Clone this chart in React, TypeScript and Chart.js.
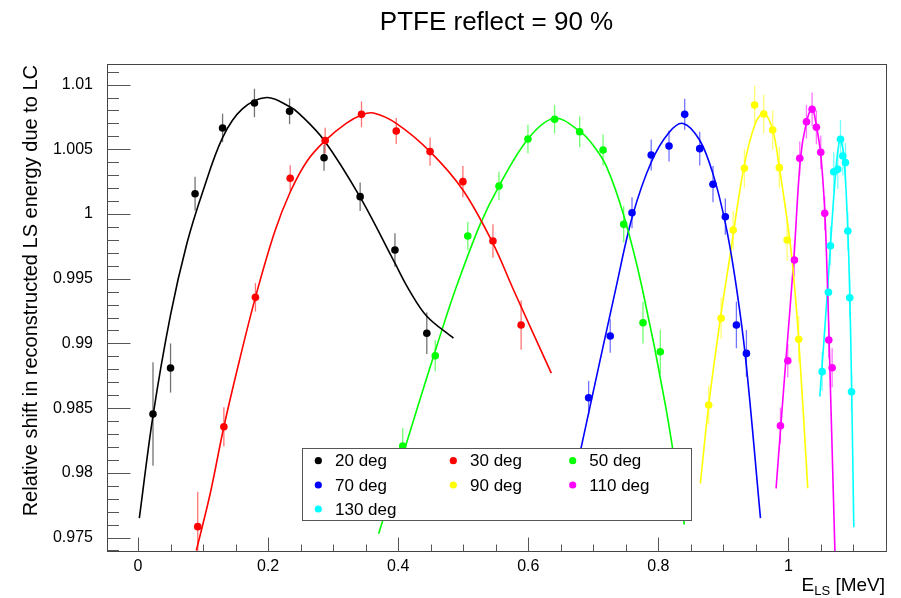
import React, { useEffect, useRef } from "react";
import { Chart, registerables } from "chart.js";

Chart.register(...registerables);

// ---------- data ----------
const seriesLabels = ["20 deg", "30 deg", "50 deg", "70 deg", "90 deg", "110 deg", "130 deg"];
const seriesColors = ["#000000", "#ff0000", "#00ff00", "#0000ff", "#ffff00", "#ff00ff", "#00ffff"];

// measured points (x = E_LS [MeV], y = relative shift, e = error)
const x20 = [0.023, 0.05, 0.0877, 0.13, 0.179, 0.233, 0.286, 0.3415, 0.395, 0.444];
const y20 = [0.98454, 0.9881, 1.00157, 1.00665, 1.00858, 1.00794, 1.00435, 1.00134, 0.99722, 0.99078];
const e20 = [0.004, 0.0019, 0.0013, 0.0011, 0.0011, 0.001, 0.001, 0.0011, 0.0013, 0.0016];

const x30 = [0.0918, 0.132, 0.1805, 0.234, 0.2877, 0.3436, 0.397, 0.449, 0.4995, 0.5457, 0.589];
const y30 = [0.97584, 0.98356, 0.99356, 1.00276, 1.00567, 1.0077, 1.00641, 1.00482, 1.0025, 0.99791, 0.99142];
const e30 = [0.0027, 0.0015, 0.0011, 0.001, 0.001, 0.001, 0.001, 0.0011, 0.0012, 0.0013, 0.0019];

const x50 = [0.407, 0.457, 0.507, 0.555, 0.5995, 0.6405, 0.679, 0.715, 0.7467, 0.7764, 0.803];
const y50 = [0.98207, 0.98905, 0.9983, 1.00216, 1.0058, 1.00732, 1.00636, 1.00495, 0.9992, 0.9916, 0.98936];
const e50 = [0.0014, 0.0012, 0.0011, 0.0011, 0.0011, 0.0011, 0.0012, 0.0012, 0.0014, 0.0016, 0.0017];

const x70 = [0.6928, 0.726, 0.7595, 0.789, 0.8164, 0.8405, 0.8636, 0.884, 0.903, 0.92, 0.9354];
const y70 = [0.9858, 0.99057, 1.0001, 1.00456, 1.00525, 1.0077, 1.00505, 1.0023, 0.99979, 0.99142, 0.98923];
const e70 = [0.0013, 0.0013, 0.0012, 0.0012, 0.0012, 0.0012, 0.0013, 0.0014, 0.0014, 0.0018, 0.0018];

const x90 = [0.8774, 0.8965, 0.915, 0.9323, 0.948, 0.962, 0.9758, 0.986, 0.998, 1.0158];
const y90 = [0.98524, 0.99194, 0.99876, 1.00353, 1.00842, 1.00773, 1.00649, 1.00358, 0.99799, 0.99032];
const e90 = [0.0015, 0.0016, 0.0015, 0.0015, 0.0015, 0.0015, 0.0015, 0.0016, 0.0016, 0.0018];

const x110 = [0.9877, 0.999, 1.0092, 1.0174, 1.0277, 1.0364, 1.043, 1.0497, 1.0558, 1.062, 1.0672];
const y110 = [0.98364, 0.98866, 0.99645, 1.0043, 1.00713, 1.00809, 1.0067, 1.00477, 1.00005, 0.99026, 0.98812];
const e110 = [0.0014, 0.0013, 0.0013, 0.0013, 0.0013, 0.0013, 0.0013, 0.0013, 0.0013, 0.0014, 0.0015];

const x130 = [1.0518, 1.0615, 1.0646, 1.0697, 1.0759, 1.08, 1.0836, 1.0877, 1.0913, 1.0943, 1.097];
const y130 = [0.98782, 0.99395, 0.99755, 1.00327, 1.00345, 1.00577, 1.00448, 1.00397, 0.99869, 0.99353, 0.98627];
const e130 = [0.0015, 0.0015, 0.0015, 0.0015, 0.0015, 0.0015, 0.0015, 0.0015, 0.0015, 0.0015, 0.0015];

// fit curves
const fitX20 = [0.002, 0.023, 0.05, 0.075, 0.1, 0.13, 0.16, 0.198, 0.233, 0.249, 0.286, 0.3415, 0.395, 0.416, 0.444, 0.485];
const fitY20 = [0.9765, 0.9844, 0.9922, 0.9977, 1.0018, 1.0059, 1.0081, 1.009, 1.0083, 1.0077, 1.0057, 1.0013, 0.9962, 0.9942, 0.9921, 0.9904];

const fitX30 = [0.0897, 0.111, 0.132, 0.156, 0.1805, 0.21, 0.234, 0.26, 0.2877, 0.32, 0.3436, 0.362, 0.397, 0.449, 0.4995, 0.5457, 0.5774, 0.6354];
const fitY30 = [0.974, 0.9784, 0.98356, 0.9887, 0.99356, 0.9986, 1.0017, 1.0041, 1.00567, 1.007, 1.00765, 1.0078, 1.007, 1.00482, 1.00185, 0.99773, 0.99413, 0.9877];

const fitX50 = [0.37, 0.4, 0.43, 0.46, 0.4877, 0.526, 0.555, 0.5995, 0.64, 0.679, 0.7, 0.72, 0.7467, 0.775, 0.811, 0.84];
const fitY50 = [0.9753, 0.9802, 0.9851, 0.9899, 0.99413, 0.9992, 1.00216, 1.0058, 1.0074, 1.0064, 1.0053, 1.0037, 0.9999, 0.9943, 0.9852, 0.976];

const fitX70 = [0.657, 0.694, 0.734, 0.76, 0.789, 0.8164, 0.838, 0.8636, 0.884, 0.903, 0.918, 0.934, 0.957];
const fitY70 = [0.9763, 0.9849, 0.9941, 0.9998, 1.004, 1.0063, 1.007, 1.0057, 1.0031, 0.9993, 0.995, 0.9889, 0.9765];

const fitX90 = [0.8646, 0.8774, 0.8954, 0.9097, 0.9312, 0.949, 0.962, 0.9758, 0.986, 0.998, 1.0056, 1.0158, 1.0297];
const fitY90 = [0.97919, 0.98524, 0.99194, 0.9966, 1.00353, 1.007, 1.00778, 1.0065, 1.0036, 0.99954, 0.99645, 0.9903, 0.9788];

const fitX110 = [0.981, 0.9945, 1.0082, 1.0185, 1.0277, 1.0364, 1.043, 1.0497, 1.0558, 1.0595, 1.0625, 1.0715];
const fitY110 = [0.9788, 0.9877, 0.99645, 1.0043, 1.0071, 1.00817, 1.0068, 1.0046, 1.0003, 0.9953, 0.9903, 0.9739];

const fitX130 = [1.0482, 1.056, 1.0635, 1.0723, 1.079, 1.085, 1.0913, 1.0943, 1.097, 1.1005];
const fitY130 = [0.9859, 0.9912, 0.9967, 1.003, 1.0057, 1.0046, 0.9987, 0.9937, 0.987, 0.9758];

const xTicks = [0, 0.2, 0.4, 0.6, 0.8, 1];
const yTicks = [0.975, 0.98, 0.985, 0.99, 0.995, 1, 1.005, 1.01];
const xRange = [-0.0477, 1.15];
const yRange = [0.97396, 1.01159];
const xMinorStep = 0.05;
const yMinorStep = 0.001;

const titleText = "PTFE reflect = 90 %";
const yTitleText = "Relative shift in reconstructed LS energy due to LC";

const pointX = [x20, x30, x50, x70, x90, x110, x130];
const pointY = [y20, y30, y50, y70, y90, y110, y130];
const pointE = [e20, e30, e50, e70, e90, e110, e130];
const fitX = [fitX20, fitX30, fitX50, fitX70, fitX90, fitX110, fitX130];
const fitY = [fitY20, fitY30, fitY50, fitY70, fitY90, fitY110, fitY130];

const FONT = "'Liberation Sans', Arial, Helvetica, sans-serif";

const decorPlugin = {
  id: "decor",
  beforeDatasetsDraw(chart: any) {
    const { ctx, chartArea: a, scales } = chart;
    const xs = scales.x;
    const ys = scales.y;
    ctx.save();
    ctx.beginPath();
    ctx.rect(a.left, a.top, a.right - a.left, a.bottom - a.top);
    ctx.clip();
    ctx.lineWidth = 1.3;
    ctx.globalAlpha = 0.55;
    pointX.forEach((xArr, s) => {
      ctx.strokeStyle = seriesColors[s];
      xArr.forEach((xv, i) => {
        const px = xs.getPixelForValue(xv);
        ctx.beginPath();
        ctx.moveTo(px, ys.getPixelForValue(pointY[s][i] - pointE[s][i]));
        ctx.lineTo(px, ys.getPixelForValue(pointY[s][i] + pointE[s][i]));
        ctx.stroke();
      });
    });
    ctx.restore();
  },
  afterDatasetsDraw(chart: any) {
    const { ctx, chartArea: a, scales } = chart;
    const xs = scales.x;
    const ys = scales.y;
    ctx.save();
    // frame
    ctx.strokeStyle = "#444";
    ctx.lineWidth = 1;
    ctx.strokeRect(Math.round(a.left) + 0.5, Math.round(a.top) + 0.5, Math.round(a.right - a.left), Math.round(a.bottom - a.top));
    // x ticks (inward)
    ctx.strokeStyle = "#555";
    const bottom = Math.round(a.bottom) + 0.5;
    for (let k = Math.ceil(xRange[0] / xMinorStep); k * xMinorStep <= xRange[1] + 1e-9; k++) {
      const v = k * xMinorStep;
      const major = xTicks.some((t) => Math.abs(t - v) < 1e-9);
      const px = Math.round(xs.getPixelForValue(v)) + 0.5;
      ctx.beginPath();
      ctx.moveTo(px, bottom);
      ctx.lineTo(px, bottom - (major ? 14 : 7));
      ctx.stroke();
    }
    // y ticks (inward)
    const left = Math.round(a.left) + 0.5;
    for (let k = Math.ceil(yRange[0] / yMinorStep - 1e-6); k * yMinorStep <= yRange[1] + 1e-9; k++) {
      const v = k * yMinorStep;
      const major = yTicks.some((t) => Math.abs(t - v) < 1e-9);
      const py = Math.round(ys.getPixelForValue(v)) + 0.5;
      ctx.beginPath();
      ctx.moveTo(left, py);
      ctx.lineTo(left + (major ? 23 : 11.5), py);
      ctx.stroke();
    }

    // legend box
    const lx = 302.5, ly = 448.5, lw = 389, lh = 72;
    ctx.fillStyle = "#ffffff";
    ctx.fillRect(lx, ly, lw, lh);
    ctx.strokeStyle = "#555";
    ctx.strokeRect(lx, ly, lw, lh);
    const rowY = [460.7, 485, 509];
    const colMarkX = [318.3, 453.3, 572.7];
    const colTextX = [335, 470, 589.3];
    ctx.font = `17px ${FONT}`;
    ctx.textBaseline = "middle";
    ctx.textAlign = "left";
    seriesLabels.forEach((lab, i) => {
      const r = Math.floor(i / 3);
      const c = i % 3;
      ctx.fillStyle = seriesColors[i];
      ctx.beginPath();
      ctx.arc(colMarkX[c], rowY[r], 3.6, 0, Math.PI * 2);
      ctx.fill();
      ctx.fillStyle = "#000";
      ctx.fillText(lab, colTextX[c], rowY[r] + 1);
    });

    // main title
    ctx.fillStyle = "#000";
    ctx.font = `26px ${FONT}`;
    ctx.textAlign = "center";
    ctx.textBaseline = "middle";
    ctx.fillText(titleText, (a.left + a.right) / 2, 23);

    // y title
    ctx.save();
    ctx.translate(31, a.top + 1);
    ctx.rotate(-Math.PI / 2);
    ctx.font = `20px ${FONT}`;
    ctx.textAlign = "right";
    ctx.textBaseline = "middle";
    ctx.fillText(yTitleText, 0, 0);
    ctx.restore();

    // x title: E_LS [MeV]
    const big = `19px ${FONT}`;
    const small = `13px ${FONT}`;
    const baseY = 591;
    ctx.textAlign = "left";
    ctx.textBaseline = "alphabetic";
    ctx.font = big;
    const wUnit = ctx.measureText(" [MeV]").width;
    const wE = ctx.measureText("E").width;
    ctx.font = small;
    const wLS = ctx.measureText("LS").width;
    let x0 = a.right - 1 - (wE + wLS + wUnit);
    ctx.font = big;
    ctx.fillText("E", x0, baseY);
    x0 += wE;
    ctx.font = small;
    ctx.fillText("LS", x0, baseY + 3.5);
    x0 += wLS;
    ctx.font = big;
    ctx.fillText(" [MeV]", x0, baseY);
    ctx.restore();
  },
};

export default function App() {
  const ref = useRef<HTMLCanvasElement | null>(null);

  useEffect(() => {
    if (!ref.current) return;
    Chart.defaults.font.family = FONT;
    const datasets: any[] = [];
    seriesLabels.forEach((lab, s) => {
      datasets.push({
        label: lab + " fit",
        data: fitX[s].map((xv, i) => ({ x: xv, y: fitY[s][i] })),
        showLine: true,
        borderColor: seriesColors[s],
        borderWidth: 1.6,
        pointRadius: 0,
        tension: 0.35,
        fill: false,
        clip: 0,
        order: 2,
      });
      datasets.push({
        label: lab,
        data: pointX[s].map((xv, i) => ({ x: xv, y: pointY[s][i] })),
        showLine: false,
        pointRadius: 3.8,
        pointBorderWidth: 0,
        backgroundColor: seriesColors[s],
        borderColor: seriesColors[s],
        order: 1,
      });
    });

    const chart = new Chart(ref.current, {
      type: "scatter",
      data: { datasets },
      options: {
        animation: false,
        responsive: false,
        events: [],
        layout: { padding: { left: 0, right: 15, top: 64, bottom: 0 } },
        plugins: {
          legend: { display: false },
          title: { display: false },
          tooltip: { enabled: false },
        },
        scales: {
          x: {
            type: "linear",
            min: xRange[0],
            max: xRange[1],
            grid: { display: false, drawTicks: false },
            border: { display: false },
            afterBuildTicks: (sc: any) => {
              sc.ticks = xTicks.map((v) => ({ value: v }));
            },
            afterFit: (sc: any) => {
              sc.height = 47;
            },
            ticks: {
              autoSkip: false,
              maxRotation: 0,
              padding: 6,
              color: "#000",
              font: { size: 16, family: FONT },
              callback: (v: any) => String(v),
            },
          },
          y: {
            type: "linear",
            min: yRange[0],
            max: yRange[1],
            grid: { display: false, drawTicks: false },
            border: { display: false },
            afterBuildTicks: (sc: any) => {
              sc.ticks = yTicks.map((v) => ({ value: v }));
            },
            afterFit: (sc: any) => {
              sc.width = 107;
            },
            ticks: {
              autoSkip: false,
              padding: 14,
              color: "#000",
              font: { size: 16, family: FONT },
              callback: (v: any) => String(v),
            },
          },
        },
      },
      plugins: [decorPlugin],
    } as any);
    return () => chart.destroy();
  }, []);

  return (
    <div style={{ position: "fixed", left: 0, top: 0, width: 901, height: 598, background: "#fff" }}>
      <canvas ref={ref} width={901} height={598} style={{ display: "block" }} />
    </div>
  );
}
